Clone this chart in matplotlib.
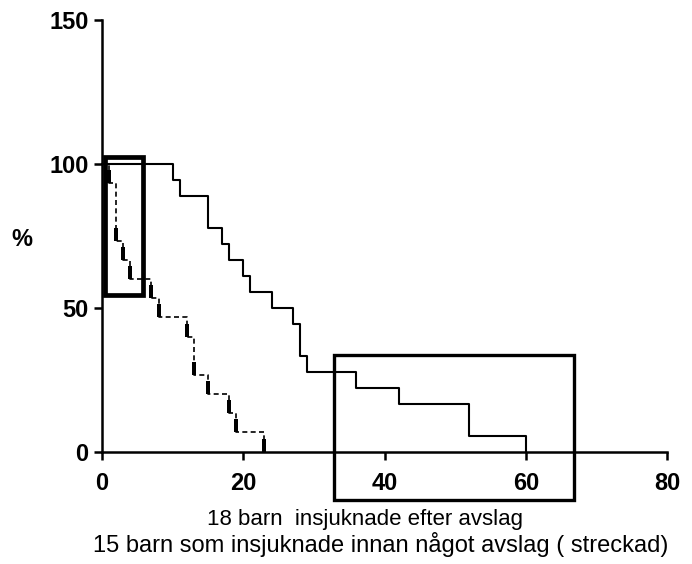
import matplotlib
matplotlib.use("Agg")
import matplotlib.pyplot as plt
from matplotlib.patches import Rectangle

# Kaplan-Meier style data (days, % still healthy)
after_t = [0, 10, 11, 15, 17, 18, 20, 21, 24, 27, 28, 29, 36, 42, 52, 60]
after_pct = [100, 94.4, 88.9, 77.8, 72.2, 66.7, 61.1, 55.6, 50.0, 44.4, 33.3, 27.8, 22.2, 16.7, 5.6, 0]

before_t = [0, 1, 2, 3, 4, 7, 8, 12, 13, 15, 18, 19, 23]
before_pct = [100, 93.3, 73.3, 66.7, 60.0, 53.3, 46.7, 40.0, 26.7, 20.0, 13.3, 6.7, 0]

x_ticks = [0, 20, 40, 60, 80]
y_ticks = [0, 50, 100, 150]

line1 = "18 barn  insjuknade efter avslag"
line2 = "15 barn som insjuknade innan något avslag ( streckad)"

plt.rcParams['font.family'] = ['Liberation Sans', 'DejaVu Sans']

fig = plt.figure(figsize=(6.92, 5.64), dpi=100)
ax = fig.add_axes([102 / 692, 1 - 451.7 / 564, 565 / 692, 431.7 / 564])

# bar-like marks sitting on top of each step (verts are not re-centred)
def mark(w):
    return [(-w, 0), (w, 0), (w, 1), (-w, 1)]

ax.plot(after_t, after_pct, drawstyle='steps-post', color='black', lw=1.5, clip_on=False)
ax.plot(after_t[1:], after_pct[1:], ls='none', marker=mark(0.13), ms=15.8,
        mfc='black', mew=0, clip_on=False)

ax.plot(before_t, before_pct, drawstyle='steps-post', color='black', lw=1.2,
        dashes=(3, 2), clip_on=False)
ax.plot(before_t[1:], before_pct[1:], ls='none', marker=mark(0.19), ms=18.7,
        mfc='black', mew=0, clip_on=False)

# highlight boxes
ax.add_patch(Rectangle((0.4, 54.3), 5.4, 48.2, fill=False, lw=3.4,
                       ec='black', clip_on=False))
ax.add_patch(Rectangle((32.8, -16.8), 34.0, 50.4, fill=False, lw=2.4,
                       ec='black', clip_on=False))

ax.set_xlim(0, 80)
ax.set_ylim(0, 150)
ax.set_xticks(x_ticks)
ax.set_yticks(y_ticks)
for s in ['top', 'right']:
    ax.spines[s].set_visible(False)
for s in ['left', 'bottom']:
    ax.spines[s].set_linewidth(1.8)
ax.tick_params(direction='out', length=5.8, width=1.8, labelsize=17)
ax.tick_params(axis='x', pad=9)
ax.tick_params(axis='y', pad=4)
for lab in ax.get_xticklabels() + ax.get_yticklabels():
    lab.set_fontweight('bold')

fig.text(22 / 692, 1 - 240 / 564, '%', fontsize=17, fontweight='bold',
         ha='center', va='center')
fig.text(365 / 692, 1 - 525 / 564, line1, fontsize=16, ha='center', va='baseline')
fig.text(381 / 692, 1 - 552 / 564, line2, fontsize=17, ha='center', va='baseline')

fig.savefig('out.png', dpi=100)
